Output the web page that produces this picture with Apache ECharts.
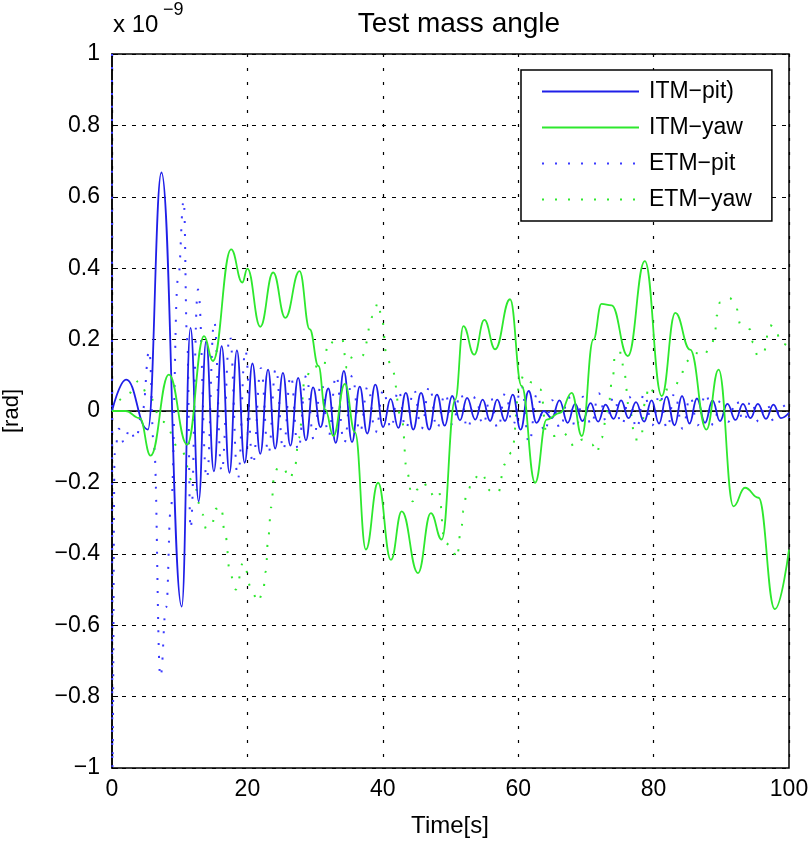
<!DOCTYPE html>
<html>
<head>
<meta charset="utf-8">
<script src="https://cdn.jsdelivr.net/npm/echarts@6/dist/echarts.min.js"></script>
<style>
html,body{margin:0;padding:0;background:#fff;}
#chart{width:812px;height:842px;}
</style>
</head>
<body>
<div id="chart"></div>
<script>
// ---- data (time [s], angle [x1e-9 rad]) ----
const seriesNames = ['ITM\u2212pit)', 'ITM\u2212yaw', 'ETM\u2212pit', 'ETM\u2212yaw'];
const xTicks = [0, 20, 40, 60, 80, 100];
const yTicks = [-1, -0.8, -0.6, -0.4, -0.2, 0, 0.2, 0.4, 0.6, 0.8, 1];

const itmPit = [
  [0,0.0],[2.1,0.088],[5.3,-0.052],[7.3,0.668],[10.3,-0.548],[11.6,0.233],[12.8,-0.253],[13.9,0.195],
  [15.05,-0.169],[16.2,0.182],[17.35,-0.173],[18.45,0.17],[19.6,-0.145],[20.75,0.133],[21.9,-0.12],
  [23.05,0.116],[24.1,-0.105],[25.25,0.107],[26.35,-0.097],[27.5,0.093],[28.65,-0.082],[29.7,0.066],
  [30.8,-0.045],[31.95,0.063],[33.05,-0.089],[34.25,0.112],[35.45,-0.087],[36.6,0.068],[37.7,-0.063],
  [38.9,0.074],[40.05,-0.045],[41.15,0.034],[42.3,-0.047],[43.4,0.051],[44.5,-0.052],[45.65,0.051],
  [46.85,-0.052],[48.0,0.046],[49.15,-0.041],[50.25,0.042],[51.4,-0.026],[52.45,0.037],[53.65,-0.024],
  [54.75,0.032],[55.85,-0.028],[56.9,0.032],[58.05,-0.028],[59.2,0.046],[60.35,-0.052],[61.55,0.056],
  [62.7,-0.033],[63.8,0.0],[64.95,-0.02],[66.1,0.03],[67.3,-0.033],[68.4,0.02],[69.5,-0.028],
  [70.7,0.022],[71.8,-0.03],[72.9,0.018],[74.1,-0.022],[75.2,0.03],[76.3,-0.02],[77.4,0.025],
  [78.6,-0.03],[79.7,0.03],[80.8,-0.035],[81.9,0.04],[83.1,-0.04],[84.2,0.042],[85.3,-0.035],
  [86.4,0.035],[87.6,-0.033],[88.7,0.03],[89.8,-0.028],[90.9,0.02],[92.1,-0.025],[93.2,0.02],
  [94.3,-0.02],[95.4,0.02],[96.6,-0.022],[97.7,0.018],[98.8,-0.02],[100,-0.005]
];

const itmYaw = [
  [0,0.0],[2,0.0],[4.1,-0.02],[5.7,-0.125],[8.4,0.102],[11.1,-0.094],[13.6,0.21],[14.9,0.14],
  [17.6,0.453],[19.25,0.36],[20.0,0.399],[21.9,0.236],[23.8,0.388],[25.6,0.261],[27.7,0.392],
  [29.2,0.229],[30.5,0.126],[31.5,0.004],[32.7,-0.07],[34.4,0.076],[35.9,-0.06],[37.5,-0.388],
  [39.3,-0.201],[41.2,-0.417],[42.8,-0.281],[45.2,-0.454],[47.1,-0.286],[48.7,-0.36],[50.7,0.032],
  [51.9,0.238],[53.5,0.158],[55.0,0.255],[56.6,0.173],[58.8,0.313],[60.5,0.07],[62.5,-0.201],
  [64.2,-0.024],[66.2,-0.005],[67.9,0.051],[69.4,-0.07],[71.1,0.2],[72.3,0.3],[73.8,0.296],
  [76.2,0.154],[78.7,0.42],[81.2,0.042],[83.2,0.275],[85.4,0.172],[87.8,-0.052],[89.6,0.116],
  [91.8,-0.267],[93.5,-0.215],[95.5,-0.243],[97.9,-0.555],[100,-0.388]
];

const etmPit = [
  [0,1.0],[0.05,-1.0],[0.4,-0.12],[1.0,-0.05],[1.8,-0.09],[2.6,-0.05],[3.5,-0.08],[4.5,0.0],
  [5.5,0.17],[6.2,-0.1],[7.15,-0.745],[8.0,-0.55],[8.7,-0.27],[9.75,0.37],[10.6,0.59],[11.1,0.2],
  [11.6,-0.33],[12.7,0.34],[14.0,-0.19],[15.1,0.25],[16.2,-0.17],[17.4,0.21],[18.6,-0.19],
  [19.7,0.17],[20.8,-0.15],[22.0,0.12],[23.1,-0.12],[24.2,0.12],[25.3,-0.11],[26.4,0.1],
  [27.5,-0.11],[28.7,0.1],[29.8,-0.08],[30.9,0.08],[32.0,-0.07],[33.1,0.1],[34.3,-0.09],
  [35.5,0.1],[36.6,-0.06],[37.8,0.07],[38.9,-0.06],[40.1,0.06],[41.2,-0.05],[42.3,0.06],
  [43.4,-0.05],[44.6,0.06],[45.7,-0.05],[46.9,0.07],[48.0,-0.05],[49.2,0.05],[50.3,-0.04],
  [51.5,0.05],[52.5,-0.05],[53.7,0.04],[54.8,-0.04],[55.9,0.04],[57.0,-0.05],[58.1,0.05],
  [59.2,-0.04],[60.5,0.07],[61.6,-0.09],[62.8,0.05],[63.9,-0.06],[65.0,0.03],[66.2,-0.05],
  [67.4,0.04],[68.5,-0.05],[69.6,0.04],[70.8,-0.04],[71.9,0.05],[73.0,-0.03],[74.1,0.04],
  [75.3,-0.04],[76.4,0.04],[77.5,-0.05],[78.6,0.05],[79.8,-0.04],[80.9,0.05],[82.0,-0.05],
  [83.1,0.05],[84.3,-0.05],[85.4,0.04],[86.5,-0.04],[87.7,0.05],[88.8,-0.04],[89.9,0.03],
  [91.0,-0.03],[92.2,0.03],[93.3,-0.03],[94.4,0.03],[95.5,-0.03],[96.7,0.02],[97.8,-0.03],
  [98.9,0.02],[100,-0.02]
];

const etmYaw = [
  [0,0.0],[2,0.04],[4.0,0.084],[5.3,0.046],[7.5,-0.03],[10.2,-0.11],[12.0,-0.2],[13.4,-0.29],
  [13.9,-0.33],[14.8,-0.316],[15.3,-0.274],[16.1,-0.267],[16.7,-0.346],[17.5,-0.46],[18.3,-0.5],
  [19.4,-0.424],[20.6,-0.496],[21.5,-0.535],[22.3,-0.51],[22.7,-0.45],[23.1,-0.35],[23.5,-0.27],
  [24.0,-0.175],[24.6,-0.155],[25.3,-0.162],[26.3,-0.19],[27.0,-0.156],[27.6,-0.075],[28.5,0.088],
  [29.6,0.126],[31.2,0.12],[32.0,0.196],[32.9,0.19],[34.0,0.2],[34.7,0.12],[35.6,0.154],
  [36.9,0.154],[38.6,0.266],[39.3,0.304],[39.8,0.266],[40.6,0.154],[41.3,0.12],[42.8,-0.024],
  [43.6,-0.173],[44.4,-0.253],[45.1,-0.22],[46.0,-0.2],[47.0,-0.234],[48.2,-0.22],[49.2,-0.37],
  [50.2,-0.38],[50.9,-0.412],[51.6,-0.33],[51.9,-0.28],[52.4,-0.229],[53.4,-0.19],[54.5,-0.173],
  [56.0,-0.225],[57.0,-0.23],[58.0,-0.15],[59.0,-0.117],[60.3,0.08],[60.8,0.1],[62.0,0.08],
  [63.3,0.06],[64.2,-0.061],[65.2,-0.07],[66.5,-0.06],[67.7,-0.075],[68.1,-0.099],[69.5,-0.08],
  [70.9,-0.094],[71.6,-0.117],[72.3,-0.075],[73.2,0.0],[74.0,0.098],[74.3,0.163],[75.3,0.163],
  [75.5,0.12],[76.5,0.0],[77.3,-0.08],[78.1,-0.08],[78.8,0.03],[79.3,0.07],[80.2,0.05],
  [81.0,0.03],[81.9,0.06],[83.1,0.07],[84.1,0.098],[84.6,0.136],[86.1,0.163],[87.3,0.154],
  [88.6,0.187],[89.1,0.224],[89.3,0.266],[89.8,0.304],[91.2,0.317],[92.3,0.285],[92.8,0.243],
  [94.2,0.229],[94.7,0.191],[95.4,0.154],[96.2,0.163],[97.2,0.24],[98.1,0.229],[98.7,0.191],
  [100,0.18]
];

// ---- chart ----
const FONT = 'Liberation Sans, Arial, Helvetica, sans-serif';
const BLUE = '#1f1fe8';
const GREEN = '#2ee82e';
const chart = echarts.init(document.getElementById('chart'), null, {renderer: 'canvas'});

function fmtY(v) {
  if (Math.abs(v) < 1e-9) return '0';
  const s = Math.abs(Math.abs(v) - 1) < 1e-9 ? '1' : Math.abs(v).toFixed(1);
  return (v < 0 ? '\u2212' : '') + s;
}

const option = {
  backgroundColor: '#fff',
  animation: false,
  grid: {left: 112, right: 23, top: 54, bottom: 74, show: true, borderColor: '#000', borderWidth: 1.5, backgroundColor: 'transparent'},
  xAxis: {
    type: 'value', min: xTicks[0], max: xTicks[xTicks.length - 1], interval: xTicks[1] - xTicks[0],
    axisLine: {show: true, lineStyle: {color: '#000', width: 1.5}},
    axisTick: {show: true, inside: true, length: 6, lineStyle: {color: '#000'}},
    axisLabel: {color: '#000', fontSize: 23, fontFamily: FONT, margin: 10},
    splitLine: {show: true, lineStyle: {color: '#000', width: 1.2, type: [3, 11]}}
  },
  yAxis: {
    type: 'value', min: yTicks[0], max: yTicks[yTicks.length - 1], interval: 0.2,
    axisLine: {show: true, lineStyle: {color: '#000', width: 1.5}},
    axisTick: {show: true, inside: true, length: 6, lineStyle: {color: '#000'}},
    axisLabel: {color: '#000', fontSize: 23, fontFamily: FONT, margin: 12, formatter: fmtY},
    splitLine: {show: true, lineStyle: {color: '#000', width: 1.2, type: [4, 6]}}
  },
  legend: {
    show: true, orient: 'vertical', left: 521, top: 70,
    backgroundColor: '#fff', borderColor: '#000', borderWidth: 1.5, borderRadius: 0,
    padding: [10, 20, 10, 20], itemWidth: 97, itemHeight: 14, itemGap: 13,
    itemStyle: {opacity: 0},
    textStyle: {color: '#000', fontSize: 23, fontFamily: FONT, lineHeight: 20, padding: [0, 0, 0, 5]},
    data: seriesNames
  },
  series: [
    {name: seriesNames[0], type: 'line', data: itmPit, symbol: 'none', smooth: 0.45, smoothMonotone: 'x',
     lineStyle: {color: BLUE, width: 1.8}, itemStyle: {color: BLUE}, z: 3},
    {name: seriesNames[1], type: 'line', data: itmYaw, symbol: 'none', smooth: 0.45, smoothMonotone: 'x',
     lineStyle: {color: GREEN, width: 1.8}, itemStyle: {color: GREEN}, z: 4},
    {name: seriesNames[2], type: 'line', data: etmPit, symbol: 'none', smooth: 0.45, smoothMonotone: 'x',
     lineStyle: {color: '#3a3aff', width: 2, type: [2, 11]}, itemStyle: {color: '#3a3aff'}, z: 2},
    {name: seriesNames[3], type: 'line', data: etmYaw, symbol: 'none', smooth: 0.45, smoothMonotone: 'x',
     lineStyle: {color: GREEN, width: 2, type: [2, 11]}, itemStyle: {color: GREEN}, z: 2}
  ],
  graphic: [
    {type: 'text', x: 459, y: 10, style: {text: 'Test mass angle', fill: '#000', font: '28px ' + FONT, textAlign: 'center'}},
    {type: 'text', x: 113, y: 13, style: {text: 'x 10', fill: '#000', font: '24px ' + FONT}},
    {type: 'text', x: 163, y: 1, style: {text: '\u22129', fill: '#000', font: '18px ' + FONT}},
    {type: 'text', x: 450, y: 814, style: {text: 'Time[s]', fill: '#000', font: '24px ' + FONT, textAlign: 'center'}},
    {type: 'text', x: 12, y: 411, rotation: Math.PI / 2, style: {text: '[rad]', fill: '#000', font: '22px ' + FONT, textAlign: 'center', textVerticalAlign: 'middle'}}
  ]
};
chart.setOption(option);
</script>
</body>
</html>
